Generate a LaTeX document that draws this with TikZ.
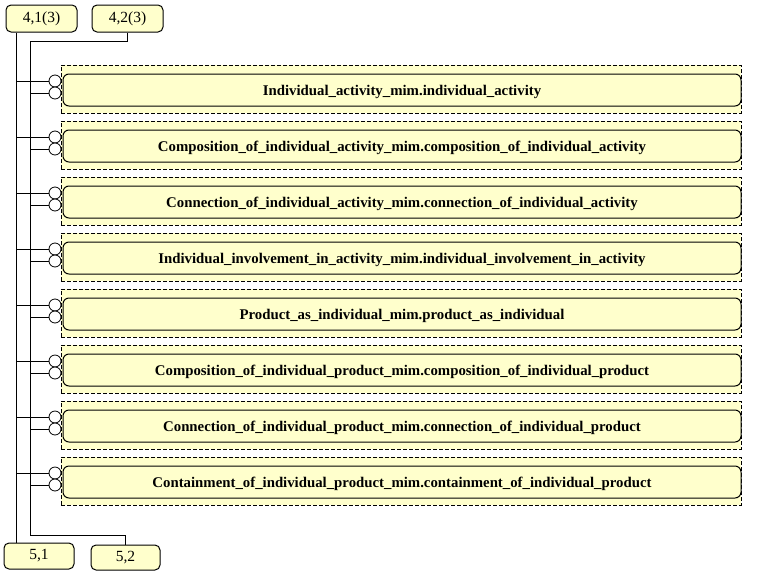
\documentclass[tikz,border=0pt]{standalone}
\usepackage{fontspec}
\setmainfont{Liberation Serif}
\usepackage{tikz}
\usetikzlibrary{positioning}
\definecolor{boxyellow}{HTML}{FFFFCC}
\tikzset{refbox/.style={rectangle,rounded corners=5pt,draw=black,fill=boxyellow,line width=1pt,inner sep=0pt,font=\fontsize{15.5}{17}\selectfont}}
\tikzstyle{mimbox}=[rectangle,rounded corners=6pt,draw=black,fill=boxyellow,line width=1pt,minimum width=678pt,minimum height=32pt,inner sep=0pt,text depth=0pt,font=\bfseries\fontsize{14.8}{17}\selectfont]
\tikzstyle{grp}=[rectangle,draw=black,dash pattern=on 4pt off 2pt,fill=boxyellow,line width=0.8pt,minimum width=680pt,minimum height=48pt,inner sep=0pt]
\tikzstyle{conn}=[circle,draw=black,fill=white,line width=0.8pt,minimum size=12pt,inner sep=0pt]

\begin{document}
\begin{tikzpicture}[x=1pt,y=-1pt,line width=0.8pt]
\useasboundingbox (0,0) rectangle (768,576);

% pages at the top and bottom
\node (t41) at (41.5,18.5)[refbox,minimum width=71pt,minimum height=27pt]{4,1(3)};
\node (t42) at (127.5,18.5)[refbox,minimum width=71pt,minimum height=27pt]{4,2(3)};
\node (b51) at (39,556)[refbox,minimum width=70pt,minimum height=26pt]{5,1};
\node (b52) at (125.5,557.5)[refbox,minimum width=69pt,minimum height=25pt]{5,2};

\coordinate (s1) at (16,0);
\coordinate (k2) at (30,41);
\coordinate (k3) at (30,535);

\draw (t41.south -| s1) -- (b51.north -| s1);
\draw (t42.south) |- (k2) -- (k3) -| (b52.north);

% mapping entries
\foreach \i/\txt in {0/Individual\_activity\_mim.individual\_activity,
  1/Composition\_of\_individual\_activity\_mim.composition\_of\_individual\_activity,
  2/Connection\_of\_individual\_activity\_mim.connection\_of\_individual\_activity,
  3/Individual\_involvement\_in\_activity\_mim.individual\_involvement\_in\_activity,
  4/Product\_as\_individual\_mim.product\_as\_individual,
  5/Composition\_of\_individual\_product\_mim.composition\_of\_individual\_product,
  6/Connection\_of\_individual\_product\_mim.connection\_of\_individual\_product,
  7/Containment\_of\_individual\_product\_mim.containment\_of\_individual\_product}{
  \pgfmathsetmacro{\yy}{65+56*\i}
  \node (g\i) at (401,\yy+24)[grp]{};
  \node (m\i) at (402,\yy+25)[mimbox]{\txt};
  \node (a\i) at (55,\yy+16)[conn]{};
  \node (c\i) at (55,\yy+28)[conn]{};
  \draw (a\i.west) -- (a\i.west -| s1);
  \draw (c\i.west) -- (c\i.west -| k2);
}
\end{tikzpicture}
\end{document}
